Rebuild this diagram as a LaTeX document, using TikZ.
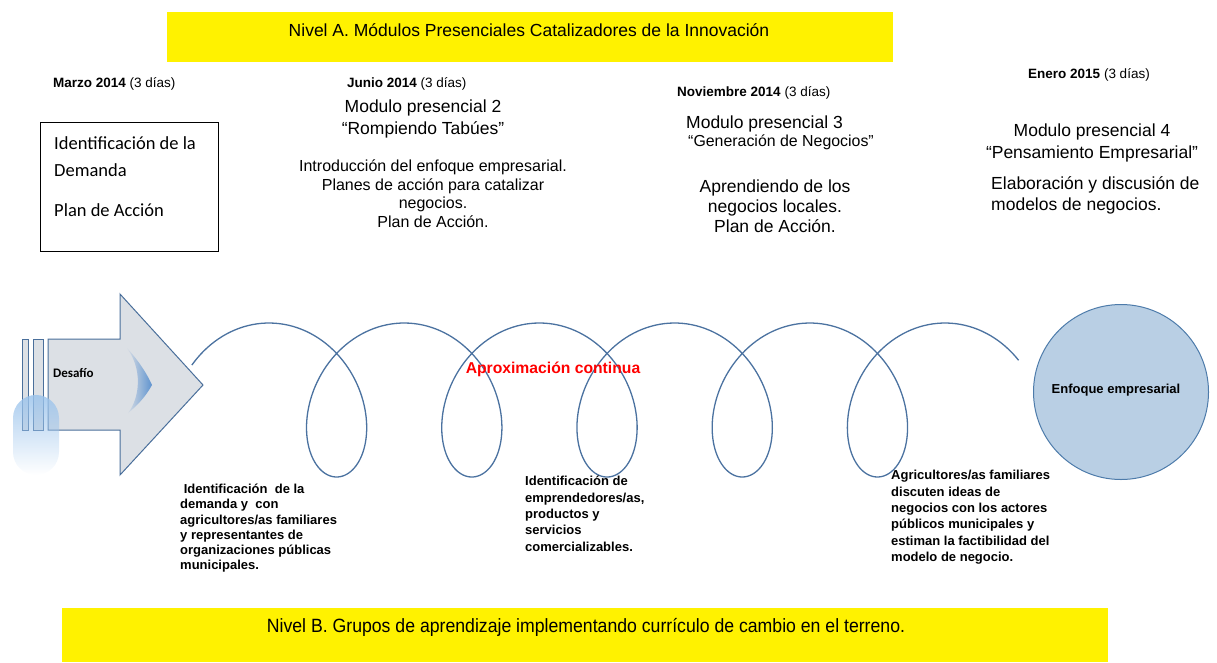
\documentclass[tikz,border=0pt]{standalone}
\usepackage{fontspec}
\setmainfont{Liberation Sans}
\newfontfamily\calibri{Carlito}
\newfontfamily\narrow{Liberation Sans}[FakeStretch=0.92]
\usetikzlibrary{fadings}
\definecolor{arrowfill}{HTML}{DCE0E5}
\definecolor{steel}{HTML}{4A6F9B}
\definecolor{coil}{HTML}{4B72A0}
\definecolor{glow}{HTML}{9CC4EC}
\definecolor{crescent}{HTML}{5F93CF}
\definecolor{disc}{HTML}{B9CFE4}
\definecolor{discedge}{HTML}{4D7BAA}

\begin{document}
\begin{tikzpicture}[x=1pt,y=-1pt,
  bar/.style={fill=yellow,draw=none,inner sep=0pt},
  date/.style={anchor=west,inner sep=0pt,font=\fontsize{13.5}{16}\selectfont},
  modulo/.style={align=center,inner sep=0pt,font=\fontsize{17.5}{22}\selectfont},
  detalle/.style={align=center,inner sep=0pt,font=\fontsize{16}{18.5}\selectfont},
  nota/.style={anchor=north west,align=left,inner sep=0pt,font=\bfseries\fontsize{13}{16.4}\selectfont},
  shape arrow/.style={draw=steel,fill=arrowfill,line width=1pt}]
\useasboundingbox (0,0) rectangle (1217,662);

% nivel A
\node[bar,minimum width=726pt,minimum height=50pt] (nivelA) at (530,37) {};
\node[inner sep=0pt,font=\fontsize{17.5}{20}\selectfont] (tituloA) at (529,30) {Nivel A. Módulos Presenciales Catalizadores de la Innovación};

% fechas
\node[date] (marzo) at (53,84) {\textbf{Marzo 2014} (3 días)};
\node[date] (junio) at (347,84) {\textbf{Junio 2014} (3 días)};
\node[date] (noviembre) at (677,93) {\textbf{Noviembre 2014} (3 días)};
\node[date] (enero) at (1028,75) {\textbf{Enero 2015} (3 días)};

% modulo 1
\node[draw,line width=0.8pt,minimum width=178pt,minimum height=129pt,inner sep=0pt] (demanda) at (129,186.5) {};
\node[anchor=north west,align=left,inner sep=0pt,font=\calibri\fontsize{18.5}{27}\selectfont] (demtxt) at (54,136) {Identificación de la\\Demanda\\[13pt]Plan de Acción};

% modulo 2
\node[modulo] (mod2) at (423,119) {Modulo presencial 2\\“Rompiendo Tabúes”};
\node[detalle] (det2) at (433,193.5) {Introducción del enfoque empresarial.\\Planes de acción para catalizar\\negocios.\\Plan de Acción.};

% modulo 3
\node[modulo,anchor=west] (mod3) at (686,124) {Modulo presencial 3};
\node[inner sep=0pt,anchor=west,font=\fontsize{15.9}{18}\selectfont] (gen3) at (688,142) {“Generación de Negocios”};
\node[modulo,font=\fontsize{17.5}{20}\selectfont] (det3) at (775,206) {Aprendiendo de los\\negocios locales.\\Plan de Acción.};

% modulo 4
\node[modulo] (mod4) at (1092,143) {Modulo presencial 4\\“Pensamiento Empresarial”};
\node[modulo,align=left,anchor=west,font=\fontsize{17.5}{21}\selectfont] (det4) at (991,195.5) {Elaboración y discusión de\\modelos de negocios.};

% flecha desafio
\draw[shape arrow] (22,339) rectangle (28,430);
\draw[shape arrow] (33,339) rectangle (43,430);
\draw[shape arrow] (48,339) -- (120,339) -- (120,294) -- (203,385) -- (120,475) -- (120,430) -- (48,430) -- cycle;
\shade[left color=arrowfill,right color=crescent] (126,347) .. controls (140,362) and (148,376) .. (152,385) .. controls (146,396) and (138,405) .. (128,413) .. controls (140,398) and (143,368) .. cycle;
\fill[glow,path fading=south,opacity=0.85,rounded corners=23pt] (13,475) -- (13,395) -- (59,395) -- (59,475) -- cycle;
\node[inner sep=0pt,anchor=west,font=\calibri\bfseries\fontsize{13}{15}\selectfont] (desafio) at (53,373) {Desafío};

% espiral
\draw[coil,line width=1.3pt] plot[domain=-1.1:32.45,samples=600] ({269+21.52*\x+60*sin(\x r)},{400-77*cos(\x r)});
\node[inner sep=0pt,text=red,font=\bfseries\fontsize{15.7}{18}\selectfont] (aprox) at (553,369) {Aproximación continua};

% enfoque
\node[circle,draw=discedge,fill=disc,line width=1pt,minimum size=175pt] (enfoque) at (1121,392) {};
\node[inner sep=0pt,font=\bfseries\fontsize{13}{16}\selectfont] (enftxt) at (1116,390) {Enfoque empresarial};

% notas nivel B
\node[nota,font=\bfseries\fontsize{13}{15.2}\selectfont] (nota1) at (180,484) {\ Identificación \ de la\\demanda y \ con\\agricultores/as familiares\\y representantes de\\organizaciones públicas\\municipales.};
\node[nota] (nota2) at (525,476) {Identificación de\\emprendedores/as,\\productos y\\servicios\\comercializables.};
\node[nota] (nota3) at (891,470) {Agricultores/as familiares\\discuten ideas de\\negocios con los actores\\públicos municipales y\\estiman la factibilidad del\\modelo de negocio.};

% nivel B
\node[bar,minimum width=1046pt,minimum height=54pt] (nivelB) at (585,635) {};
\node[inner sep=0pt,font=\narrow\fontsize{19.2}{22}\selectfont] (tituloB) at (586,627) {Nivel B. Grupos de aprendizaje implementando currículo de cambio en el terreno.};
\end{tikzpicture}
\end{document}
